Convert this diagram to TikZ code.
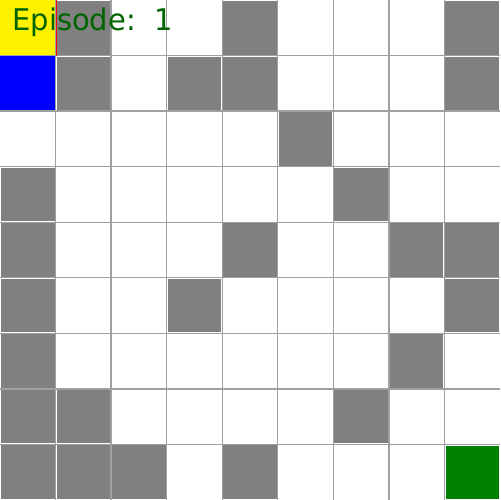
\documentclass[tikz,border=0pt]{standalone}
\usepackage{fontspec}
\setmainfont{DejaVu Sans}
\definecolor{cellgrey}{RGB}{128,128,128}
\definecolor{gridgrey}{RGB}{160,160,160}
\definecolor{txtgreen}{RGB}{0,100,0}
\definecolor{goalgreen}{RGB}{0,128,0}
\begin{document}
\begin{tikzpicture}[x=0.02cm,y=-0.02cm,
  wall/.style={fill=cellgrey},
  gridline/.style={draw=gridgrey,line width=0.025cm}]
\useasboundingbox (0,0) rectangle (500,500);
\fill[white] (0,0) rectangle (500,500);
\def\cs{55.5556}
% special cells
\fill[yellow] (0,0) rectangle (\cs,\cs);
\fill[blue] (0,\cs) rectangle (\cs,2*\cs);
\fill[goalgreen] (8*\cs+1.5,8*\cs+1.5) rectangle (9*\cs-1.5,9*\cs-1.5);
% walls (col,row)
\foreach \c/\r in {1/0,4/0,8/0, 1/1,3/1,4/1,8/1, 5/2, 0/3,6/3, 0/4,4/4,7/4,8/4, 0/5,3/5,8/5, 0/6,7/6, 0/7,1/7,6/7, 0/8,1/8,2/8,4/8}
  \fill[wall] (\c*\cs+1,\r*\cs+1) rectangle (\c*\cs+\cs-1,\r*\cs+\cs-1);
% grid
\foreach \i in {1,...,8} {
  \draw[gridline] (\i*\cs,0) -- (\i*\cs,500);
  \draw[gridline] (0,\i*\cs) -- (500,\i*\cs);
}
\coordinate (rt) at (56.5,0);
\coordinate (rb) at (56.5,\cs);
\draw[red,line width=0.02cm] (rt) -- (rb);
\node[anchor=base west,inner sep=0pt,text=txtgreen,font=\fontsize{17}{17}\selectfont,xscale=0.97] (ep) at (12,31) {Episode:\ \ 1};
\end{tikzpicture}
\end{document}
